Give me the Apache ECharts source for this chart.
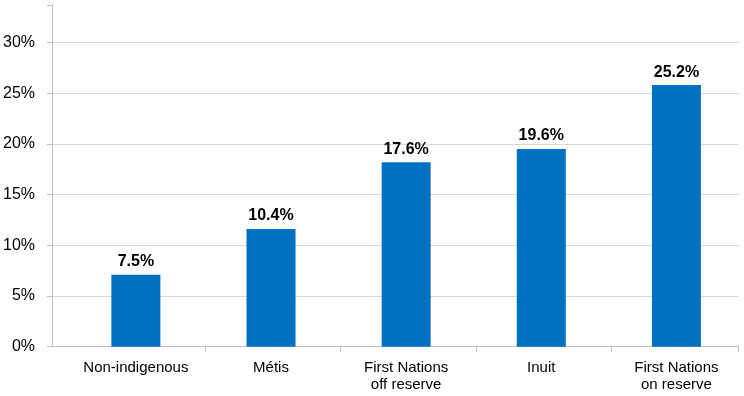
<!DOCTYPE html>
<html>
<head>
<meta charset="utf-8">
<script src="https://cdn.jsdelivr.net/npm/echarts@6/dist/echarts.min.js"></script>
<style>
html,body{margin:0;padding:0;background:#fff;}
#c{width:744px;height:396px;}
</style>
</head>
<body>
<div id="c"></div>
<script>
const categories = ['Non-indigenous', 'Métis', 'First Nations\noff reserve', 'Inuit', 'First Nations\non reserve'];
const barValues = [7.1, 11.6, 18.2, 19.5, 25.8];
const barLabels = ['7.5%', '10.4%', '17.6%', '19.6%', '25.2%'];
const yTicks = [0, 5, 10, 15, 20, 25, 30];

const FONT = '"Liberation Sans", Arial, sans-serif';
const yMax = 33.7;
const axisGray = '#bfbfbf';
const gridGray = '#d9d9d9';

const chart = echarts.init(document.getElementById('c'));
chart.setOption({
  backgroundColor: '#fff',
  animation: false,
  grid: [
    { left: 51, right: 5.7, top: 5, bottom: 49.3 },
    { left: 68.3, width: 679.1, top: 5, bottom: 49.3 }
  ],
  xAxis: [
    {
      type: 'value', gridIndex: 0,
      min: (51 - 68.3) / 135.8, max: (738.3 - 68.3) / 135.8,
      axisLine: { show: true, onZero: false, lineStyle: { color: axisGray, width: 1 } },
      axisTick: { show: true, length: 5, lineStyle: { color: axisGray },
        customValues: [1, 2, 3, 4, (738.3 - 68.3) / 135.8] },
      axisLabel: { show: false },
      splitLine: { show: false }
    },
    {
      type: 'category', gridIndex: 1, data: categories,
      axisLine: { show: false },
      axisTick: { show: false },
      axisLabel: { margin: 13, fontFamily: FONT, fontSize: 15, color: '#000', lineHeight: 17, interval: 0 }
    }
  ],
  yAxis: [
    {
      type: 'value', gridIndex: 0, min: 0, max: yMax, interval: 5,
      axisLine: { show: true, onZero: false, lineStyle: { color: axisGray } },
      axisTick: { show: true, length: 5, lineStyle: { color: axisGray } },
      axisLabel: {
        margin: 17, fontFamily: FONT, fontSize: 16, color: '#000',
        formatter: v => yTicks.includes(v) ? v + '%' : ''
      },
      splitLine: { show: true, showMaxLine: false, lineStyle: { color: gridGray, width: 1 } }
    },
    { type: 'value', gridIndex: 1, min: 0, max: yMax, show: false }
  ],
  series: [{
    type: 'bar', xAxisIndex: 1, yAxisIndex: 1,
    data: barValues,
    barWidth: 49,
    itemStyle: { color: '#0070c0' },
    label: {
      show: true, position: 'top', distance: 5,
      fontFamily: FONT, fontSize: 16, fontWeight: 'bold', color: '#000',
      formatter: p => barLabels[p.dataIndex]
    }
  }]
});
</script>
</body>
</html>
